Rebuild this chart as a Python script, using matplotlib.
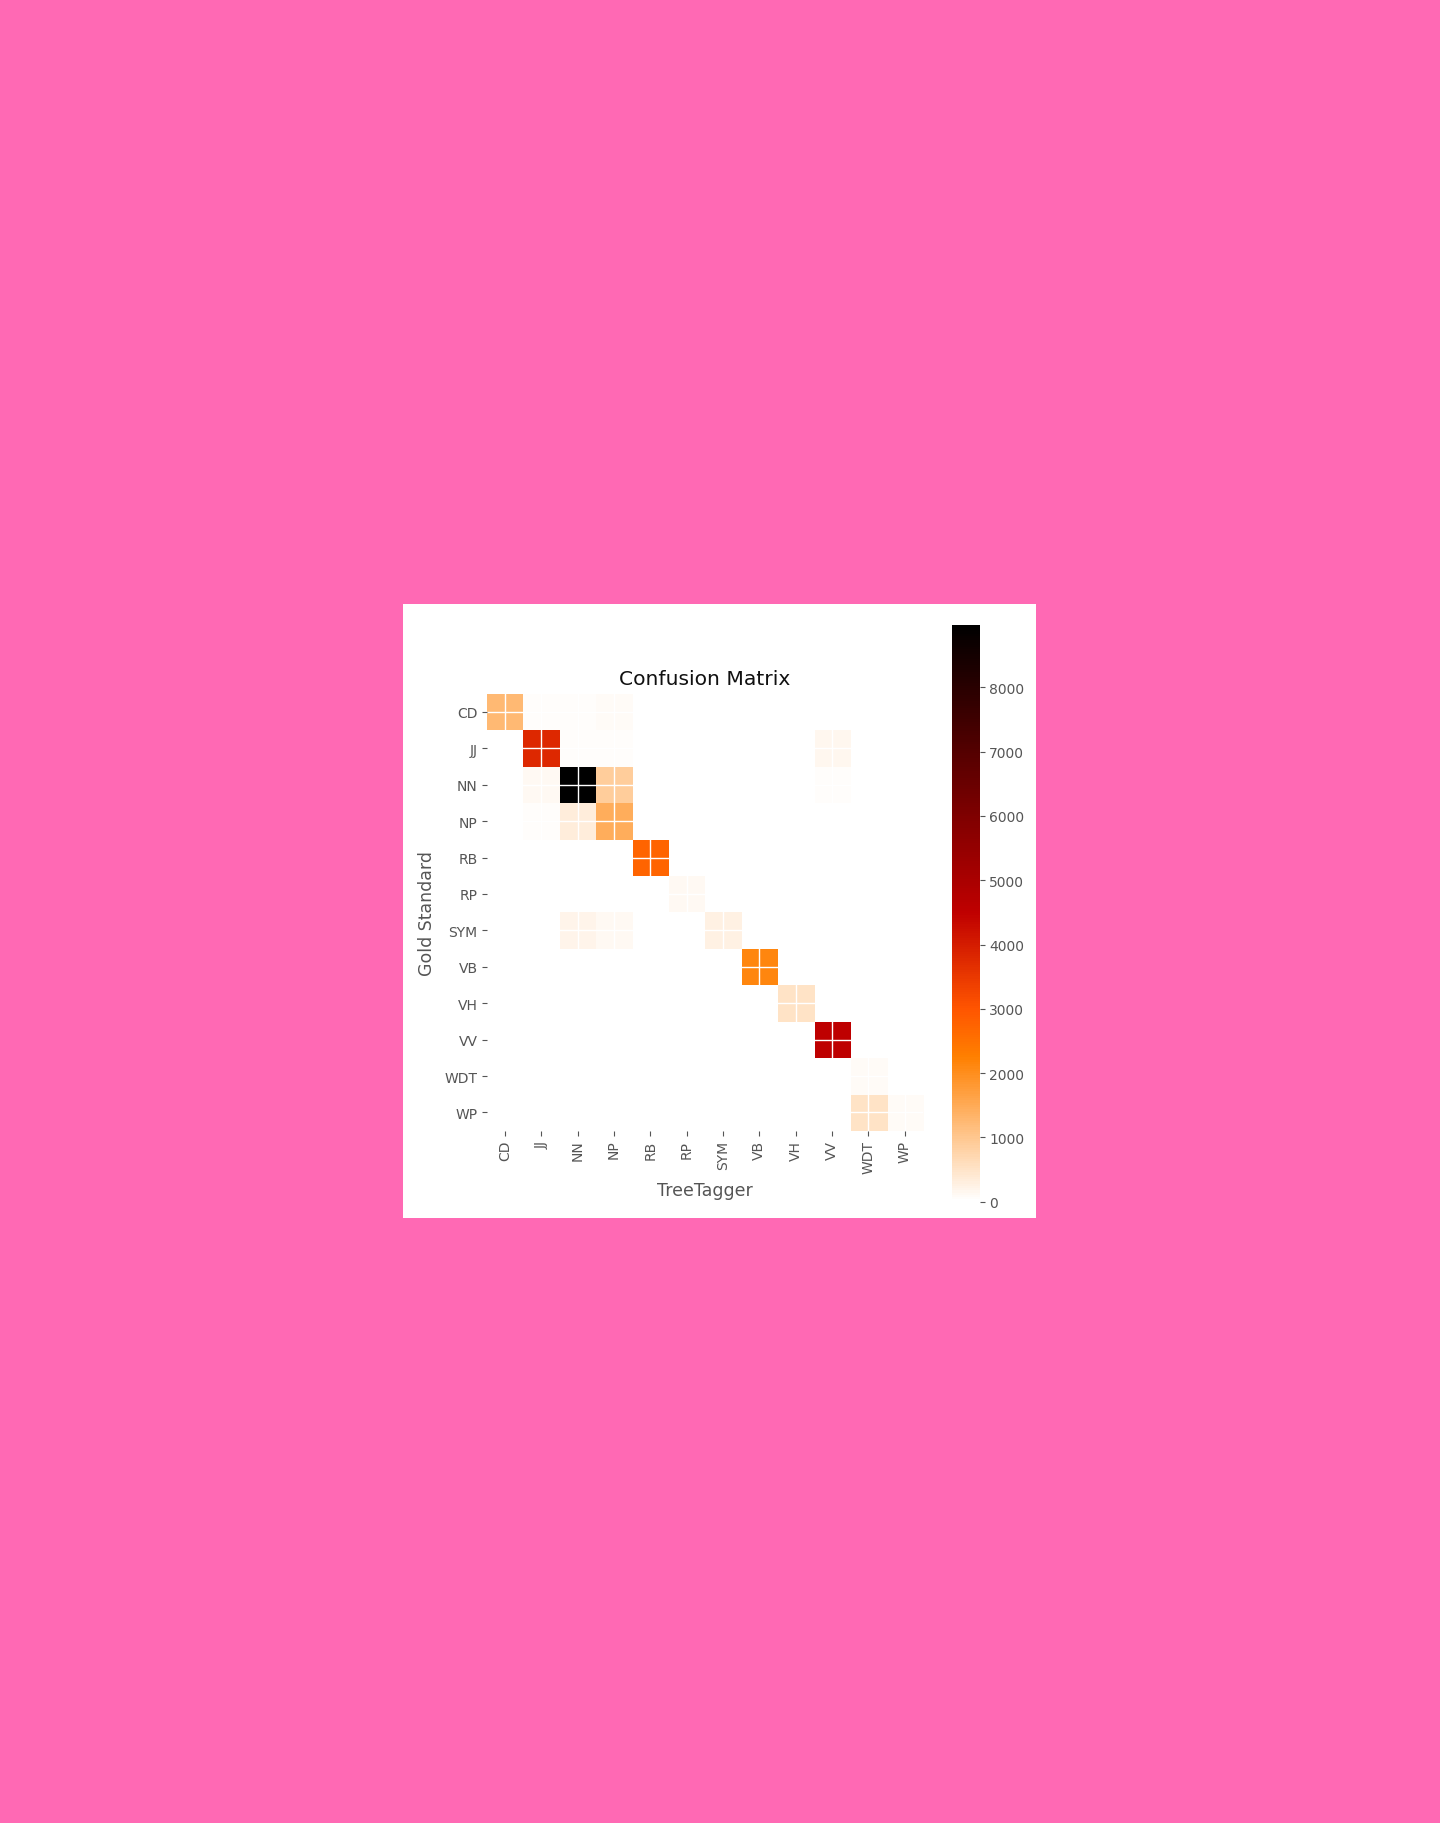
"""
Confusion matrix of TreeTagger tags against the gold standard.

Heatmap (gist_heat_r) with a white grid through the cell centres,
placed on a white panel in the middle of a pink page.
"""

import matplotlib

matplotlib.use("Agg")
import matplotlib.pyplot as plt
import numpy as np
from matplotlib.patches import Rectangle

# Tag labels (rows = gold standard, columns = TreeTagger)
tags = ["CD", "JJ", "NN", "NP", "RB", "RP", "SYM", "VB", "VH", "VV", "WDT", "WP"]

# Counts, one list per gold-standard row
row_cd = [1250, 50, 50, 90, 0, 0, 0, 0, 0, 0, 0, 0]
row_jj = [0, 3770, 40, 50, 0, 0, 0, 0, 0, 170, 0, 0]
row_nn = [0, 110, 8975, 900, 0, 0, 0, 0, 0, 55, 0, 0]
row_np = [0, 45, 330, 1460, 0, 0, 0, 0, 0, 0, 0, 0]
row_rb = [0, 0, 0, 0, 2730, 0, 0, 0, 0, 0, 0, 0]
row_rp = [0, 0, 0, 0, 0, 140, 0, 0, 0, 0, 0, 0]
row_sym = [0, 0, 200, 110, 0, 0, 265, 0, 0, 0, 0, 0]
row_vb = [0, 0, 0, 0, 0, 0, 0, 2110, 0, 0, 0, 0]
row_vh = [0, 0, 0, 0, 0, 0, 0, 0, 510, 0, 0, 0]
row_vv = [0, 0, 0, 0, 0, 0, 0, 0, 0, 4515, 0, 0]
row_wdt = [0, 0, 0, 0, 0, 0, 0, 0, 0, 0, 90, 0]
row_wp = [0, 0, 0, 0, 0, 0, 0, 0, 0, 0, 500, 90]

cbar_ticks = [0, 1000, 2000, 3000, 4000, 5000, 6000, 7000, 8000]

matrix = np.array(
    [
        row_cd, row_jj, row_nn, row_np, row_rb, row_rp,
        row_sym, row_vb, row_vh, row_vv, row_wdt, row_wp,
    ],
    dtype=float,
)

gray = "#555555"
W, H = 1440, 1824

fig = plt.figure(figsize=(W / 100, H / 100), dpi=100, facecolor="#ff69b4")

# White panel holding the chart (drawn behind the axes)
fig.patches.append(
    Rectangle(
        (403 / W, 1 - 1219 / H), 633 / W, 614 / H,
        transform=fig.transFigure, facecolor="white", edgecolor="none", zorder=-10,
    )
)

ax = fig.add_axes([486.7 / W, 1 - 1131.7 / H, 436 / W, 437 / H])
cax = fig.add_axes([952 / W, 1 - 1202.7 / H, 28 / W, 577 / H])

im = ax.imshow(
    matrix,
    cmap="gist_heat_r",
    vmin=0,
    vmax=matrix.max(),
    aspect="auto",
    interpolation="nearest",
)

ax.set_xticks(range(len(tags)))
ax.set_yticks(range(len(tags)))
ax.set_xticklabels(tags, rotation=90)
ax.set_yticklabels(tags)
ax.tick_params(axis="both", colors=gray, labelsize=10, length=3.5, width=0.8, pad=3)
ax.grid(True, color="white", linewidth=1.0)
ax.set_axisbelow(False)
for s in ax.spines.values():
    s.set_visible(False)

ax.set_xlabel("TreeTagger", color=gray, fontsize=12.5, labelpad=6)
ax.set_ylabel("Gold Standard", color=gray, fontsize=12.5, labelpad=6)
ax.set_title("Confusion Matrix", fontsize=14.6, color="#111111", pad=7)

cb = fig.colorbar(im, cax=cax, ticks=cbar_ticks)
cb.outline.set_visible(False)
cax.tick_params(colors=gray, labelsize=10, length=3.5, width=0.8, pad=3)

fig.savefig("out.png", dpi=100, facecolor=fig.get_facecolor())
